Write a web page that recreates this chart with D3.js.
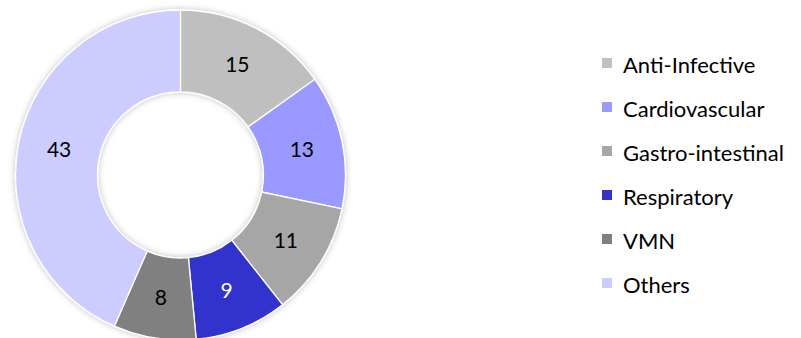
<!DOCTYPE html>
<html>
<head>
<meta charset="utf-8">
<script src="https://cdn.jsdelivr.net/npm/d3@7"></script>
<style>
  html, body { margin: 0; padding: 0; background: #fff; }
  svg { display: block; }
</style>
</head>
<body>
<svg id="chart" width="801" height="338"></svg>
<script>
const categories = ["Anti-Infective", "Cardiovascular", "Gastro-intestinal", "Respiratory", "VMN", "Others"];
const values = [15, 13, 11, 9, 8, 43];
const colors = ["#BFBFBF", "#9999FF", "#A6A6A6", "#3333CC", "#808080", "#CCCCFF"];
const labelColors = ["#000", "#000", "#000", "#fff", "#000", "#000"];

const svg = d3.select("#chart");
const cx = 180.5, cy = 175, outerR = 165, innerR = 83;

const defs = svg.append("defs");
const f = defs.append("filter").attr("id", "shadow")
  .attr("x", "-20%").attr("y", "-20%").attr("width", "140%").attr("height", "140%");
f.append("feDropShadow").attr("dx", 0).attr("dy", 0).attr("stdDeviation", 3)
  .attr("flood-color", "#000").attr("flood-opacity", 0.25);

const data = categories.map((c, i) => ({ cat: c, value: values[i], color: colors[i], lc: labelColors[i] }));
const pie = d3.pie().value(d => d.value).sort(null);
const arc = d3.arc().innerRadius(innerR).outerRadius(outerR);
const arcs = pie(data);

const g = svg.append("g").attr("transform", `translate(${cx},${cy})`);
g.append("g").attr("filter", "url(#shadow)")
  .selectAll("path").data(arcs).join("path")
  .attr("d", arc)
  .attr("fill", d => d.data.color)
  .attr("stroke", "#fff").attr("stroke-width", 1.3);

g.selectAll("text").data(arcs).join("text")
  .attr("transform", d => `translate(${arc.centroid(d)})`)
  .attr("text-anchor", "middle")
  .attr("y", 7.5)
  .attr("font-family", "Lato, sans-serif")
  .attr("font-size", 21)
  .attr("fill", d => d.data.lc)
  .text(d => d.data.value);

const legend = svg.append("g").attr("transform", "translate(602,63)");
const rowY = d3.scalePoint().domain(categories).range([0, 220]);
const items = legend.selectAll("g").data(data).join("g")
  .attr("transform", d => `translate(0,${rowY(d.cat)})`);
items.append("rect").attr("x", 0).attr("y", -5).attr("width", 10).attr("height", 10)
  .attr("fill", d => d.color);
items.append("text").attr("x", 21).attr("y", 10)
  .attr("font-family", "Lato, sans-serif")
  .attr("font-size", 22)
  .attr("fill", "#000")
  .text(d => d.cat);
</script>
</body>
</html>
